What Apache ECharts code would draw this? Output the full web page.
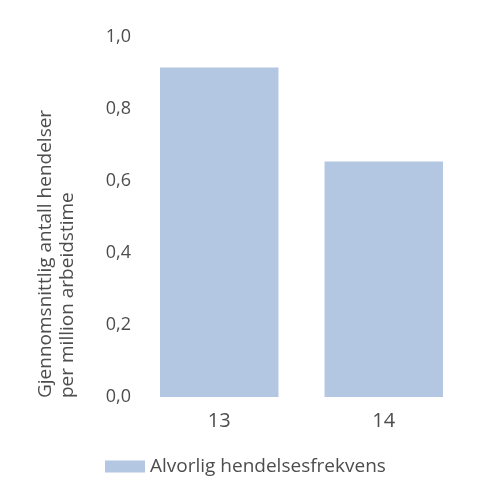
<!DOCTYPE html>
<html>
<head>
<meta charset="utf-8">
<script src="https://cdn.jsdelivr.net/npm/echarts@6/dist/echarts.min.js"></script>
<style>
  html, body { margin: 0; padding: 0; background: #fff; }
  #chart { width: 500px; height: 500px; }
</style>
</head>
<body>
<div id="chart"></div>
<script>
const categories = ['13', '14']
const frekvens = [0.915, 0.654]
const seriesName = 'Alvorlig hendelsesfrekvens'
const yTitle = ['Gjennomsnittlig antall hendelser', 'per million arbeidstime']

const textColor = '#4d4d4d'
const font = 'Open Sans'

const chart = echarts.init(document.getElementById('chart'))

const option = {
  animation: false,
  grid: { left: 137, right: 34, top: 37, bottom: 103 },
  legend: {
    left: 100,
    top: 452,
    itemWidth: 40,
    itemHeight: 12,
    itemGap: 10,
    textStyle: { color: textColor, fontSize: 19, fontFamily: font },
    data: [{ name: seriesName, icon: 'rect' }],
  },
  graphic: [
    {
      type: 'text',
      x: 57,
      y: 398,
      rotation: Math.PI / 2,
      style: {
        text: yTitle.join('\n'),
        fill: textColor,
        font: '19px "Open Sans"',
        lineHeight: 22,
        align: 'left',
        verticalAlign: 'middle',
      },
    },
  ],
  xAxis: {
    type: 'category',
    data: categories,
    axisLine: { show: false },
    axisTick: { show: false },
    axisLabel: { color: textColor, fontSize: 20, fontFamily: font, margin: 14 },
  },
  yAxis: {
    type: 'value',
    min: 0,
    max: 1,
    interval: 0.2,
    splitLine: { show: false },
    axisLine: { show: false },
    axisTick: { show: false },
    axisLabel: {
      color: textColor,
      fontSize: 18,
      fontFamily: font,
      margin: 6,
      formatter: v => v.toFixed(1).replace('.', ','),
    },
  },
  series: [
    {
      name: seriesName,
      type: 'bar',
      data: frekvens,
      barCategoryGap: '28%',
      itemStyle: { color: '#b3c6e2' },
    },
  ],
}

chart.setOption(option)
</script>
</body>
</html>
